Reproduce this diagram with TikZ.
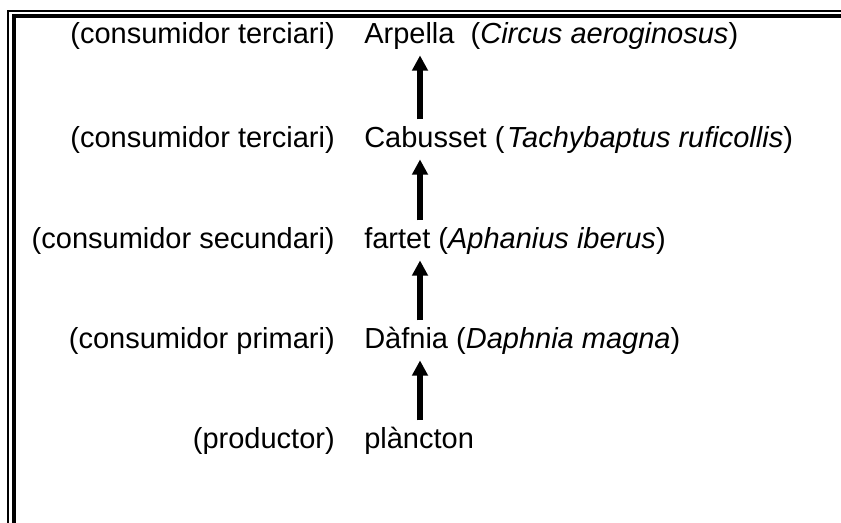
\documentclass[tikz,border=0pt]{standalone}
\usepackage{fontspec}
\setmainfont{Liberation Sans}
\usetikzlibrary{arrows.meta}
\begin{document}
\begin{tikzpicture}[x=0.75pt,y=-0.75pt,
  every node/.style={font=\fontsize{21.75pt}{26pt}\selectfont, inner xsep=0pt, inner ysep=4.5pt, text height=16pt, text depth=4.6pt},
  role/.style={anchor=base east},
  species/.style={anchor=base west},
  feeds/.style={line width=4.5pt, -{Triangle[width=11.5pt,length=11.5pt]}},
  thinframe/.style={line width=1.5pt, line join=miter},
  thickframe/.style={line width=3pt, line join=miter}]
\useasboundingbox (0,0) rectangle (841,522);
% frame (double line, top and left)
\draw[thinframe] (8,530) -- (8,11) -- (850,11);
\draw[thickframe] (13.7,530) -- (13.7,15.5) -- (850,15.5);
% roles
\node[role] (r1) at (335,43) {(consumidor terciari)};
\node[role] (r2) at (335,147) {(consumidor terciari)};
\node[role] (r3) at (335,248) {(consumidor secundari)};
\node[role] (r4) at (335,348) {(consumidor primari)};
\node[role] (r5) at (335,448) {(productor)};
% species
\node[species] (s1) at (364,43) {Arpella\ \ (\textit{Circus aeroginosus})};
\node[species] (s2) at (364,147) {Cabusset (\kern2pt\textit{Tachybaptus ruficollis})};
\node[species] (s3) at (364,248) {fartet (\textit{Aphanius iberus})};
\node[species] (s4) at (364,348) {Dàfnia (\textit{Daphnia magna})};
\node[species] (s5) at (364,448) {plàncton};
% arrows
\coordinate (ax) at (420,0);
\draw[feeds] (s5.north -| ax) -- (s4.south -| ax);
\draw[feeds] (s4.north -| ax) -- (s3.south -| ax);
\draw[feeds] (s3.north -| ax) -- (s2.south -| ax);
\draw[feeds] (s2.north -| ax) -- (s1.south -| ax);
\end{tikzpicture}
\end{document}
